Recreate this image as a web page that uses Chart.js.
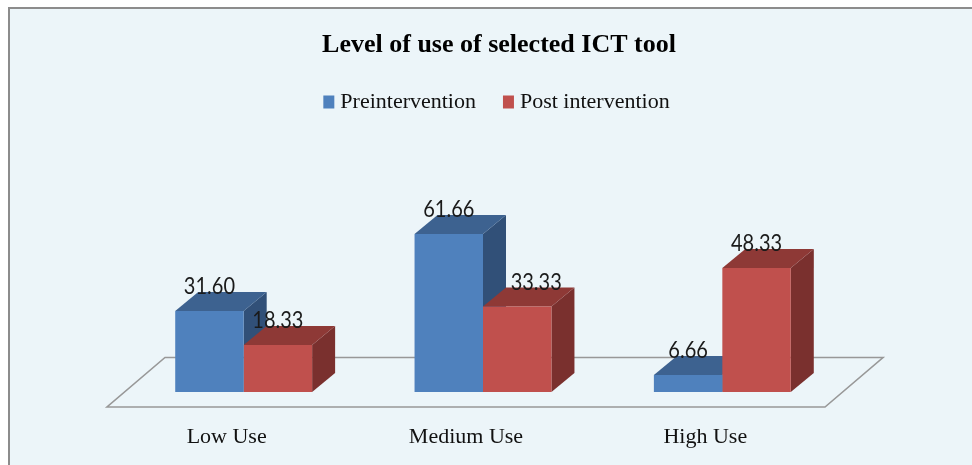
<!DOCTYPE html>
<html>
<head>
<meta charset="utf-8">
<title>Level of use of selected ICT tool</title>
<script src="https://cdn.jsdelivr.net/npm/chart.js@4"></script>
<style>
  html, body { margin: 0; padding: 0; background: #fff; overflow: hidden; }
  #frame { position: absolute; left: 8px; top: 7px; width: 980px; height: 470px; background: #ecf5f9; border-left: 2px solid #8c8c8c; border-top: 2px solid #8c8c8c; }
  #chart { position: absolute; left: 0; top: 0; }
</style>
</head>
<body>
<div id="frame"></div>
<canvas id="chart" width="972" height="465"></canvas>
<script>
// --- data ---
const categories = ['Low Use', 'Medium Use', 'High Use'];
const preValues = [31.60, 61.66, 6.66];
const postValues = [18.33, 33.33, 48.33];
const preLabels = ['31.60', '61.66', '6.66'];
const postLabels = ['18.33', '33.33', '48.33'];

// --- fake 3D look ---
const depthX = 23;
const depthY = 19;
const faces = [
  { top: '#3d6290', side: '#315078' },
  { top: '#8e3936', side: '#7a302e' }
];

const box3d = {
  id: 'box3d',
  beforeDatasetsDraw(chart) {
    const { ctx, chartArea } = chart;
    // floor
    const fl = chartArea.left - 17, fr = chartArea.right - 17;
    const fy = chartArea.bottom + 15, by = chartArea.bottom - 34.5;
    ctx.save();
    ctx.strokeStyle = '#989898';
    ctx.lineWidth = 1.6;
    ctx.beginPath();
    ctx.moveTo(fl, fy);
    ctx.lineTo(fr, fy);
    ctx.lineTo(fr + 58, by);
    ctx.lineTo(fl + 58, by);
    ctx.closePath();
    ctx.stroke();
    // side and top faces, blue first so red sits over it
    chart.data.datasets.forEach((ds, i) => {
      chart.getDatasetMeta(i).data.forEach(bar => {
        const l = bar.x - bar.width / 2, r = bar.x + bar.width / 2;
        ctx.fillStyle = faces[i].side;
        ctx.beginPath();
        ctx.moveTo(r, bar.y);
        ctx.lineTo(r + depthX, bar.y - depthY);
        ctx.lineTo(r + depthX, bar.base - depthY);
        ctx.lineTo(r, bar.base);
        ctx.closePath();
        ctx.fill();
        ctx.fillStyle = faces[i].top;
        ctx.beginPath();
        ctx.moveTo(l, bar.y);
        ctx.lineTo(l + depthX, bar.y - depthY);
        ctx.lineTo(r + depthX, bar.y - depthY);
        ctx.lineTo(r, bar.y);
        ctx.closePath();
        ctx.fill();
      });
    });
    ctx.restore();
  },
  afterDatasetsDraw(chart) {
    const { ctx } = chart;
    const texts = [preLabels, postLabels];
    ctx.save();
    ctx.font = '23px Lato';
    ctx.fillStyle = '#1a1a1a';
    ctx.textAlign = 'center';
    ctx.textBaseline = 'middle';
    chart.data.datasets.forEach((ds, i) => {
      chart.getDatasetMeta(i).data.forEach((bar, j) => {
        // the 33.33 label sits to the right of its bar in the original
        const shift = (i === 1 && j === 1) ? 19 : 0;
        ctx.save();
        ctx.translate(bar.x + shift, bar.y - 24);
        ctx.scale(0.87, 1);
        ctx.fillText(texts[i][j], 0, 0);
        ctx.restore();
      });
    });
    ctx.restore();
  }
};

new Chart(document.getElementById('chart').getContext('2d'), {
  type: 'bar',
  data: {
    labels: categories,
    datasets: [
      { label: 'Preintervention', data: preValues, backgroundColor: '#4f81bd', categoryPercentage: 0.572, barPercentage: 1 },
      { label: 'Post intervention', data: postValues, backgroundColor: '#c0504d', categoryPercentage: 0.572, barPercentage: 1 }
    ]
  },
  plugins: [box3d],
  options: {
    responsive: false,
    animation: false,
    layout: { padding: { left: 26, right: 0, top: 0, bottom: 0 } },
    scales: {
      x: {
        grid: { display: false },
        border: { display: false },
        afterFit: s => { s.height = 73; },
        ticks: { color: '#111', font: { family: 'Liberation Serif', size: 22 }, labelOffset: -17, padding: 24, maxRotation: 0 }
      },
      y: {
        min: 0,
        max: 104.9,
        grid: { display: false },
        border: { display: false },
        ticks: { display: false },
        afterFit: s => { s.width = 98; }
      },
      y2: {
        position: 'right',
        grid: { display: false },
        border: { display: false },
        ticks: { display: false },
        afterFit: s => { s.width = 130; }
      }
    },
    plugins: {
      title: {
        display: true,
        text: 'Level of use of selected ICT tool',
        color: '#000',
        font: { family: 'Liberation Serif', size: 26, weight: 'bold', lineHeight: 1 },
        padding: { top: 32, bottom: 1 }
      },
      legend: {
        position: 'top',
        labels: {
          color: '#111',
          font: { family: 'Liberation Serif', size: 22 },
          // thin box with a thick stroke keeps the marker close to its text
          boxWidth: 1,
          boxHeight: 3,
          padding: 32,
          generateLabels(chart) {
            return Chart.defaults.plugins.legend.labels.generateLabels(chart).map(item => {
              item.strokeStyle = item.fillStyle;
              item.lineWidth = 10;
              item.lineJoin = 'miter';
              return item;
            });
          }
        }
      },
      tooltip: { enabled: false }
    }
  }
});
</script>
</body>
</html>
